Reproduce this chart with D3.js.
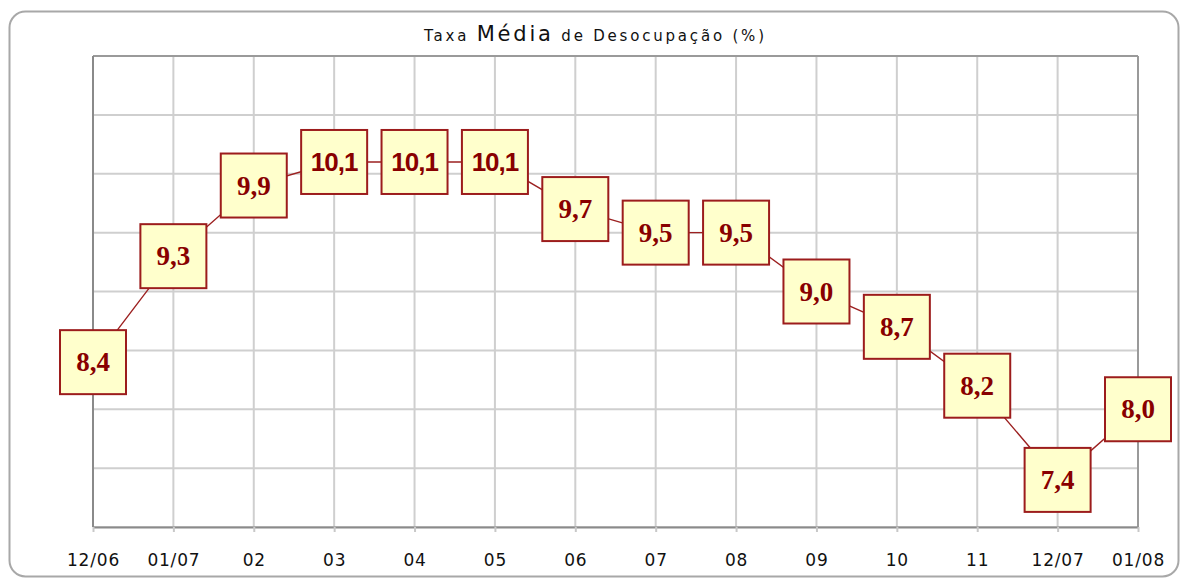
<!DOCTYPE html>
<html>
<head>
<meta charset="utf-8">
<script src="https://cdn.jsdelivr.net/npm/d3@7"></script>
<style>
  html, body { margin: 0; padding: 0; background: #ffffff; }
  svg { display: block; }
</style>
</head>
<body>
<svg id="chart" width="1180" height="578"></svg>
<script>
// ---- data ----
const categories = ["12/06", "01/07", "02", "03", "04", "05", "06", "07", "08", "09", "10", "11", "12/07", "01/08"];
const values = [8.4, 9.3, 9.9, 10.1, 10.1, 10.1, 9.7, 9.5, 9.5, 9.0, 8.7, 8.2, 7.4, 8.0];
const yGridTicks = [7, 7.5, 8, 8.5, 9, 9.5, 10, 10.5, 11];
const yDomain = [7, 11];
const titleParts = ["Taxa ", "Média", " de Desocupação (%)"];

// ---- layout ----
const W = 1180, H = 578;
const plot = { left: 93, right: 1138, top: 56, bottom: 527 };

const svg = d3.select("#chart");

// outer rounded frame
svg.append("rect")
  .attr("x", 9.5).attr("y", 11.5)
  .attr("width", 1169).attr("height", 565)
  .attr("rx", 16).attr("ry", 16)
  .attr("fill", "#ffffff")
  .attr("stroke", "#a8a8a8")
  .attr("stroke-width", 2);

const x = d3.scalePoint().domain(categories).range([plot.left, plot.right]).padding(0);
const y = d3.scaleLinear().domain(yDomain).range([plot.bottom, plot.top]);

// gridlines
const grid = svg.append("g");
grid.selectAll("line.h")
  .data(yGridTicks)
  .join("line")
  .attr("class", "h")
  .attr("x1", plot.left).attr("x2", plot.right)
  .attr("y1", d => y(d)).attr("y2", d => y(d))
  .attr("stroke", "#cfcfcf").attr("stroke-width", 2);
grid.selectAll("line.v")
  .data(categories)
  .join("line")
  .attr("class", "v")
  .attr("x1", d => x(d)).attr("x2", d => x(d))
  .attr("y1", plot.top).attr("y2", plot.bottom)
  .attr("stroke", "#cfcfcf").attr("stroke-width", 2);

// plot frame
svg.append("line").attr("x1", plot.left).attr("x2", plot.right).attr("y1", plot.top).attr("y2", plot.top)
  .attr("stroke", "#9a9a9a").attr("stroke-width", 2);
svg.append("line").attr("x1", plot.right).attr("x2", plot.right).attr("y1", plot.top).attr("y2", plot.bottom)
  .attr("stroke", "#9a9a9a").attr("stroke-width", 2);
svg.append("line").attr("x1", plot.left).attr("x2", plot.left).attr("y1", plot.top).attr("y2", plot.bottom)
  .attr("stroke", "#8a8a8a").attr("stroke-width", 2);

// x axis
const xAxis = svg.append("g")
  .attr("transform", `translate(0,${plot.bottom})`)
  .call(d3.axisBottom(x).tickSize(5).tickPadding(22).tickSizeOuter(0));
xAxis.select(".domain").attr("stroke", "#8a8a8a").attr("stroke-width", 2);
xAxis.selectAll(".tick line").attr("stroke", "#c8c8c8").attr("stroke-width", 2);
xAxis.selectAll(".tick text")
  .attr("fill", "#111111")
  .attr("font-family", "DejaVu Sans, sans-serif")
  .attr("font-size", 17)
  .attr("letter-spacing", "0.8px");

// title
const title = svg.append("text")
  .attr("x", 594).attr("y", 41)
  .attr("text-anchor", "middle")
  .attr("font-family", "DejaVu Sans, sans-serif")
  .attr("fill", "#111111")
  .attr("textLength", 340)
  .attr("lengthAdjust", "spacing");
title.selectAll("tspan")
  .data(titleParts)
  .join("tspan")
  .attr("font-size", (d, i) => i === 1 ? 21 : 15)
  .text(d => d);

// connecting line
const line = d3.line().x((d, i) => x(categories[i])).y(d => y(d));
svg.append("path")
  .datum(values)
  .attr("d", line)
  .attr("fill", "none")
  .attr("stroke", "#9c2020")
  .attr("stroke-width", 1.4);

// label boxes
const boxW = 66, boxH = 64;
const labels = svg.append("g").selectAll("g")
  .data(values)
  .join("g")
  .attr("transform", (d, i) => `translate(${x(categories[i])},${y(d)})`);
labels.append("rect")
  .attr("x", -boxW / 2).attr("y", -boxH / 2)
  .attr("width", boxW).attr("height", boxH)
  .attr("fill", "#ffffcc")
  .attr("stroke", "#9c1c1c")
  .attr("stroke-width", 2);
labels.append("text")
  .attr("text-anchor", "middle")
  .attr("fill", "#880000")
  .attr("font-weight", "bold")
  .attr("font-family", d => d >= 10 ? "Liberation Sans, Arial, sans-serif" : "Liberation Serif, Times New Roman, serif")
  .attr("font-size", d => d >= 10 ? 26 : 27)
  .attr("letter-spacing", d => d >= 10 ? "-1px" : "0px")
  .attr("y", 9)
  .text(d => d.toFixed(1).replace(".", ","));
</script>
</body>
</html>
